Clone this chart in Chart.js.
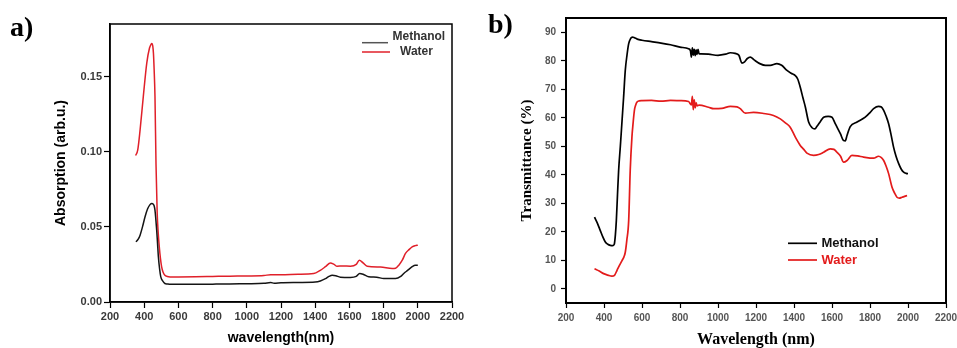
<!DOCTYPE html>
<html>
<head>
<meta charset="utf-8">
<script src="https://cdn.jsdelivr.net/npm/chart.js@4"></script>
<style>
  html, body { margin: 0; padding: 0; background: #fff; overflow: hidden; width: 957px; height: 348px; }
  .panel { position: absolute; top: 0; }
  .tag { position: absolute; font: bold 28px "Liberation Serif", "Times New Roman", serif; line-height: 1; color: #000; }
</style>
</head>
<body>
<div class="panel" style="left:0"><canvas id="absChart" width="480" height="348"></canvas></div>
<div class="panel" style="left:480px"><canvas id="transChart" width="490" height="348"></canvas></div>
<div class="tag" style="left:10px; top:13px">a)</div>
<div class="tag" style="left:488px; top:10px">b)</div>
<script>
// a) absorption spectra
const absTicksX = [200, 400, 600, 800, 1000, 1200, 1400, 1600, 1800, 2000, 2200];
const absTicksY = [0, 0.05, 0.10, 0.15];
const absMethanolWl = [352, 365, 376, 390, 405, 420, 434, 445, 452, 458, 463, 468, 473, 478, 483, 490, 497, 508, 521, 535, 551, 600, 700, 800, 840, 900, 1000, 1100, 1140, 1160, 1200, 1300, 1400, 1430, 1460, 1480, 1500, 1520, 1547, 1606, 1640, 1660, 1680, 1713, 1760, 1801, 1870, 1900, 1918, 1940, 1967, 1985, 2000];
const absMethanol = [0.040, 0.0418, 0.0445, 0.050, 0.0567, 0.062, 0.0648, 0.0656, 0.0652, 0.064, 0.0611, 0.055, 0.0478, 0.039, 0.030, 0.022, 0.0167, 0.014, 0.0123, 0.012, 0.0118, 0.0118, 0.0118, 0.0118, 0.012, 0.012, 0.0122, 0.0124, 0.013, 0.0125, 0.0128, 0.013, 0.0133, 0.014, 0.0155, 0.017, 0.0178, 0.0175, 0.0165, 0.0163, 0.017, 0.019, 0.0185, 0.0168, 0.0165, 0.0156, 0.0156, 0.017, 0.019, 0.021, 0.0235, 0.0245, 0.0245];
const absWaterWl = [350, 362, 376, 395, 415, 431, 440, 445, 450, 454, 458, 463, 469, 476, 482, 488, 495, 502, 510, 521, 535, 551, 600, 700, 800, 900, 1000, 1100, 1140, 1200, 1300, 1391, 1430, 1460, 1489, 1510, 1528, 1560, 1606, 1640, 1658, 1680, 1704, 1782, 1850, 1870, 1889, 1910, 1928, 1950, 1967, 1985, 2000];
const absWater = [0.0975, 0.101, 0.1145, 0.137, 0.159, 0.169, 0.1715, 0.172, 0.1705, 0.1656, 0.155, 0.137, 0.092, 0.059, 0.046, 0.037, 0.029, 0.0233, 0.020, 0.0178, 0.017, 0.0167, 0.0167, 0.0168, 0.0170, 0.0172, 0.0173, 0.0176, 0.0182, 0.0182, 0.0185, 0.0189, 0.0211, 0.0235, 0.026, 0.025, 0.0238, 0.024, 0.0238, 0.025, 0.0278, 0.026, 0.0238, 0.0233, 0.0223, 0.0225, 0.0245, 0.028, 0.0323, 0.035, 0.0367, 0.0375, 0.0378];

// b) transmittance spectra
const transTicksX = [200, 400, 600, 800, 1000, 1200, 1400, 1600, 1800, 2000, 2200];
const transTicksY = [0, 10, 20, 30, 40, 50, 60, 70, 80, 90];
const transMethanolWl = [350, 365, 380, 395, 407, 420, 433, 445, 454, 460, 465, 471, 477, 486, 495, 503, 512, 521, 530, 540, 550, 560, 575, 600, 650, 700, 750, 800, 845, 855, 860, 865, 870, 875, 880, 885, 890, 895, 900, 910, 950, 1000, 1040, 1065, 1090, 1110, 1126, 1140, 1153, 1170, 1190, 1223, 1250, 1275, 1310, 1335, 1363, 1385, 1407, 1420, 1433, 1447, 1460, 1477, 1495, 1510, 1521, 1540, 1556, 1580, 1600, 1617, 1644, 1661, 1670, 1679, 1696, 1732, 1775, 1800, 1819, 1845, 1860, 1872, 1885, 1898, 1911, 1924, 1937, 1951, 1964, 1977, 1990, 2000];
const transMethanol = [25.1, 23, 20.5, 18, 16.4, 15.6, 15.2, 15.1, 15.6, 19, 24, 33, 41.5, 50, 59, 67, 76.6, 82, 86, 87.8, 88.3, 88.1, 87.6, 87.2, 86.7, 86.2, 85.6, 84.8, 84.2, 83.5, 81.3, 84.5, 82, 84, 81.8, 83.8, 82.2, 84, 82.5, 82.4, 82.3, 81.9, 82.3, 82.8, 82.6, 81.9, 79.2, 79.6, 80.7, 81.3, 80.3, 78.9, 78.4, 78.4, 79, 78.4, 76.6, 75.6, 74.8, 73.5, 70.7, 67, 63.7, 58.5, 56.5, 56.1, 57, 58.8, 60.2, 60.5, 60.2, 57.9, 54.4, 52, 51.9, 53.8, 56.9, 58.5, 60.2, 61.8, 63.2, 64, 63.8, 62.6, 60.5, 57.9, 54, 49.7, 46.5, 43.9, 42, 40.9, 40.5, 40.4];
const transWaterWl = [350, 375, 398, 420, 442, 455, 468, 482, 495, 505, 512, 520, 530, 538, 547, 553, 560, 567, 574, 585, 600, 650, 700, 750, 800, 845, 860, 865, 870, 875, 880, 885, 890, 900, 950, 977, 1020, 1065, 1100, 1117, 1144, 1187, 1240, 1292, 1328, 1355, 1380, 1407, 1433, 1450, 1468, 1503, 1530, 1556, 1591, 1610, 1626, 1645, 1661, 1679, 1705, 1735, 1766, 1819, 1845, 1860, 1872, 1885, 1898, 1916, 1930, 1942, 1955, 1968, 1982, 1995];
const transWater = [7.0, 6.2, 5.3, 4.8, 4.4, 4.7, 6.4, 8.3, 9.9, 11.2, 12.8, 17, 24, 41.5, 53.2, 58, 62.6, 64.5, 65.5, 65.9, 66, 66.1, 65.8, 66.1, 66, 65.7, 64.5, 67.5, 62.8, 66.3, 63.5, 65.2, 64.2, 64.4, 63.7, 63.2, 63.3, 64, 63.8, 63.2, 61.6, 61.9, 61.5, 60.8, 59.6, 58.2, 56.7, 53.2, 50.3, 49, 47.6, 46.8, 47.1, 47.9, 49.1, 48.9, 47.9, 46.5, 44.4, 45, 46.8, 46.6, 46.2, 45.8, 46.5, 46, 45, 43, 40.4, 35.6, 33.5, 32.1, 31.8, 32.1, 32.4, 32.7];

const pts = (xs, ys) => xs.map((x, i) => ({ x, y: ys[i] }));

// box round the plot area
const framePlugin = {
  id: 'frame',
  afterDatasetsDraw(chart, args, opts) {
    const { ctx, chartArea: a } = chart;
    ctx.save();
    ctx.strokeStyle = '#000';
    ctx.lineWidth = opts.width;
    ctx.strokeRect(a.left, a.top, a.right - a.left, a.bottom - a.top);
    ctx.restore();
  }
};

// legend drawn inside the plot
const insideLegend = {
  id: 'insideLegend',
  afterDraw(chart, args, opts) {
    const ctx = chart.ctx;
    ctx.save();
    ctx.font = opts.font;
    ctx.textBaseline = 'middle';
    opts.items.forEach((it, i) => {
      const ds = chart.data.datasets[i];
      ctx.strokeStyle = it.lineColor || ds.borderColor;
      ctx.lineWidth = opts.lineWidth;
      ctx.beginPath();
      ctx.moveTo(it.x0, it.ly);
      ctx.lineTo(it.x1, it.ly);
      ctx.stroke();
      ctx.fillStyle = it.textColor;
      ctx.fillText(ds.label, it.tx, it.ty);
    });
    ctx.restore();
  }
};

function axis(ticks, min, max, o) {
  return {
    type: 'linear', min, max,
    afterBuildTicks: s => { s.ticks = ticks.map(v => ({ value: v })); },
    afterFit: s => { if (s.isHorizontal()) s.height = o.size; else s.width = o.size; },
    grid: { display: true, drawOnChartArea: false, drawTicks: true, tickLength: o.tickLen, color: '#000', tickWidth: 1.2 },
    border: { display: true, color: '#000', width: o.border },
    ticks: { font: o.tickFont, color: o.tickColor, padding: o.pad, maxRotation: 0, autoSkip: false, callback: o.fmt },
    title: { display: true, text: o.title, font: o.titleFont, color: '#000', padding: o.titlePad }
  };
}

const sans = '"Liberation Sans", Arial, sans-serif';
const serif = '"Liberation Serif", "Times New Roman", serif';

new Chart(document.getElementById('absChart'), {
  type: 'line',
  data: {
    datasets: [
      { label: 'Methanol', data: pts(absMethanolWl, absMethanol), borderColor: '#151515', borderWidth: 1.5 },
      { label: 'Water', data: pts(absWaterWl, absWater), borderColor: '#e0202a', borderWidth: 1.5 }
    ]
  },
  options: {
    responsive: false, animation: false,
    layout: { padding: { left: 0, right: 28, top: 24, bottom: 0 } },
    elements: { point: { radius: 0 }, line: { cubicInterpolationMode: 'monotone' } },
    scales: {
      x: axis(absTicksX, 200, 2200, {
        size: 46, tickLen: 6, border: 1.5, pad: 2, tickColor: '#3a3a3a',
        tickFont: { family: sans, size: 11, weight: 'bold' }, fmt: v => String(v),
        title: 'wavelength(nm)', titleFont: { family: sans, size: 14, weight: 'bold', lineHeight: 1 },
        titlePad: { top: 0, bottom: 3 }
      }),
      y: axis(absTicksY, 0, 0.185, {
        size: 110, tickLen: 6, border: 1.5, pad: 2, tickColor: '#3a3a3a',
        tickFont: { family: sans, size: 11, weight: 'bold' }, fmt: v => v.toFixed(2),
        title: 'Absorption (arb.u.)', titleFont: { family: sans, size: 14, weight: 'bold', lineHeight: 1 },
        titlePad: { top: 54, bottom: 0 }
      })
    },
    plugins: {
      legend: { display: false }, tooltip: { enabled: false },
      frame: { width: 1.5 },
      insideLegend: {
        font: 'bold 12px ' + sans, lineWidth: 1.5,
        items: [
          { x0: 362, x1: 388, ly: 42.7, tx: 392.5, ty: 37, lineColor: '#555', textColor: '#333' },
          { x0: 362, x1: 390, ly: 52, tx: 400, ty: 52, textColor: '#333' }
        ]
      }
    }
  },
  plugins: [framePlugin, insideLegend]
});

new Chart(document.getElementById('transChart'), {
  type: 'line',
  data: {
    datasets: [
      { label: 'Methanol', data: pts(transMethanolWl, transMethanol), borderColor: '#000', borderWidth: 1.7 },
      { label: 'Water', data: pts(transWaterWl, transWater), borderColor: '#e31b1b', borderWidth: 1.7 }
    ]
  },
  options: {
    responsive: false, animation: false,
    layout: { padding: { left: 0, right: 24, top: 18, bottom: 0 } },
    elements: { point: { radius: 0 }, line: { cubicInterpolationMode: 'monotone' } },
    scales: {
      x: axis(transTicksX, 200, 2200, {
        size: 45, tickLen: 5, border: 2, pad: 4, tickColor: '#555',
        tickFont: { family: sans, size: 10, weight: 'bold' }, fmt: v => String(v),
        title: 'Wavelength (nm)', titleFont: { family: serif, size: 16, weight: 'bold', lineHeight: 1 },
        titlePad: { top: 0, bottom: 0 }
      }),
      y: axis(transTicksY, -5, 95, {
        size: 86, tickLen: 5, border: 2, pad: 5, tickColor: '#555',
        tickFont: { family: sans, size: 10, weight: 'bold' }, fmt: v => String(v),
        title: 'Transmittance (%)', titleFont: { family: serif, size: 15, weight: 'bold', lineHeight: 1 },
        titlePad: { top: 40, bottom: 0 }
      })
    },
    plugins: {
      legend: { display: false }, tooltip: { enabled: false },
      frame: { width: 2 },
      insideLegend: {
        font: 'bold 13px ' + sans, lineWidth: 1.7,
        items: [
          { x0: 308, x1: 337, ly: 243.3, tx: 341.5, ty: 243.3, textColor: '#111' },
          { x0: 308, x1: 337, ly: 260, tx: 341.5, ty: 260, textColor: '#e31b1b' }
        ]
      }
    }
  },
  plugins: [framePlugin, insideLegend]
});
</script>
</body>
</html>
